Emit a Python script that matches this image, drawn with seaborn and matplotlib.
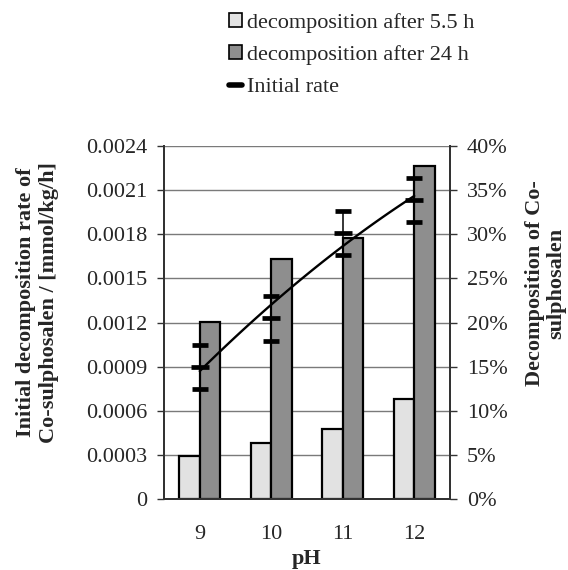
import numpy as np
import pandas as pd
import matplotlib
matplotlib.use("Agg")
import matplotlib.pyplot as plt
import seaborn as sns
from matplotlib.patches import Patch
from matplotlib.lines import Line2D
from matplotlib.ticker import PercentFormatter, FixedLocator

# datos
ph = ["9", "10", "11", "12"]
decomp_5h = [4.9, 6.3, 7.9, 11.3]      # % descompuesto tras 5.5 h
decomp_24h = [20.1, 27.2, 29.6, 37.7]  # % descompuesto tras 24 h
rate = [0.0009, 0.00123, 0.00181, 0.00203]   # velocidad inicial mmol/kg/h
rate_err = [0.00015, 0.000153, 0.00015, 0.00015]
rate_ticks = [0, 0.0003, 0.0006, 0.0009, 0.0012, 0.0015, 0.0018, 0.0021, 0.0024]
rate_labels = ["0", "0.0003", "0.0006", "0.0009", "0.0012", "0.0015", "0.0018", "0.0021", "0.0024"]
series = ["decomposition after 5.5 h", "decomposition after 24 h"]
colors = ["#e2e2e2", "#8e8e8e"]

df = pd.DataFrame({
    "pH": ph * 2,
    "serie": [series[0]] * 4 + [series[1]] * 4,
    "valor": decomp_5h + decomp_24h,
})

sns.set_style("white")
plt.rcParams["font.family"] = ["Liberation Serif", "DejaVu Serif"]
plt.rcParams["font.size"] = 16

fig = plt.figure(figsize=(5.68, 5.70), dpi=100)
ax = fig.add_axes([164 / 568, 71 / 570, 286 / 568, 353 / 570])  # velocidad (izq)
ax2 = ax.twinx()  # porcentajes (der)

# barras en el eje derecho, detras de la linea
ax.set_zorder(ax2.get_zorder() + 1)
ax.patch.set_visible(False)

sns.barplot(data=df, x="pH", y="valor", hue="serie", hue_order=series,
            palette=colors, width=0.57, edgecolor="black", linewidth=1.6,
            saturation=1, legend=False, ax=ax2)
ax2.set_ylim(0, 40)
ax2.yaxis.set_major_locator(FixedLocator(np.arange(0, 41, 5)))
ax2.yaxis.set_major_formatter(PercentFormatter(decimals=0))
ax2.set_axisbelow(True)
ax2.yaxis.grid(True, color="#7a7a7a", linewidth=1)
ax2.set_ylabel("")
ax2.set_xlabel("")

pos = np.arange(len(ph))
sns.regplot(x=pos, y=rate, order=2, ci=None, scatter=False, ax=ax,
            color="black", line_kws={"linewidth": 1.7})
ax.errorbar(pos, rate, yerr=rate_err, fmt="_", ms=13, mew=3.4, color="black",
            ecolor="black", elinewidth=1.1, capsize=5.5, capthick=1.2)
ax.set_ylim(0, 0.0024)
ax.set_yticks(rate_ticks)
ax.set_yticklabels(rate_labels)
ax.set_xlim(-0.5, 3.5)
ax.set_xticks(pos)
ax.set_xticklabels(ph)
ax.set_xticks(np.arange(-0.5, 4, 1), minor=True)
ax.set_xlabel("pH", fontweight="bold", labelpad=3)
ax.set_ylabel("")

for a in (ax, ax2):
    for s in a.spines.values():
        s.set_color("#333333")
        s.set_linewidth(1.4)
    a.spines["top"].set_visible(False)
ax.tick_params(axis="y", direction="out", length=5, width=1, color="#333333", pad=7)
ax2.tick_params(axis="y", direction="out", length=5, width=1, color="#333333", pad=7)
ax.tick_params(axis="x", which="major", length=0, pad=19)
ax.tick_params(axis="x", which="minor", direction="inout", length=11, width=1, color="#333333")
ax2.tick_params(axis="x", length=0, labelbottom=False)

fig.text(0.066, 0.47, "Initial decomposition rate of\nCo-sulphosalen / [mmol/kg/h]",
         rotation=90, ha="center", va="center", fontweight="bold",
         linespacing=1.15, multialignment="center")
fig.text(0.96, 0.503, "Decomposition of Co-\nsulphosalen",
         rotation=90, ha="center", va="center", fontweight="bold",
         linespacing=1.1, multialignment="center")

handles = [Patch(facecolor=colors[0], edgecolor="black", linewidth=1.2),
           Patch(facecolor=colors[1], edgecolor="black", linewidth=1.2),
           Line2D([0], [0], color="black", linewidth=4)]
fig.legend(handles, series + ["Initial rate"], loc="upper left",
           bbox_to_anchor=(220 / 568, 1 - 4 / 570), frameon=False,
           handlelength=0.6, handleheight=0.6, handletextpad=0.2,
           labelspacing=0.56, borderaxespad=0)

fig.savefig("out.png", dpi=100)
